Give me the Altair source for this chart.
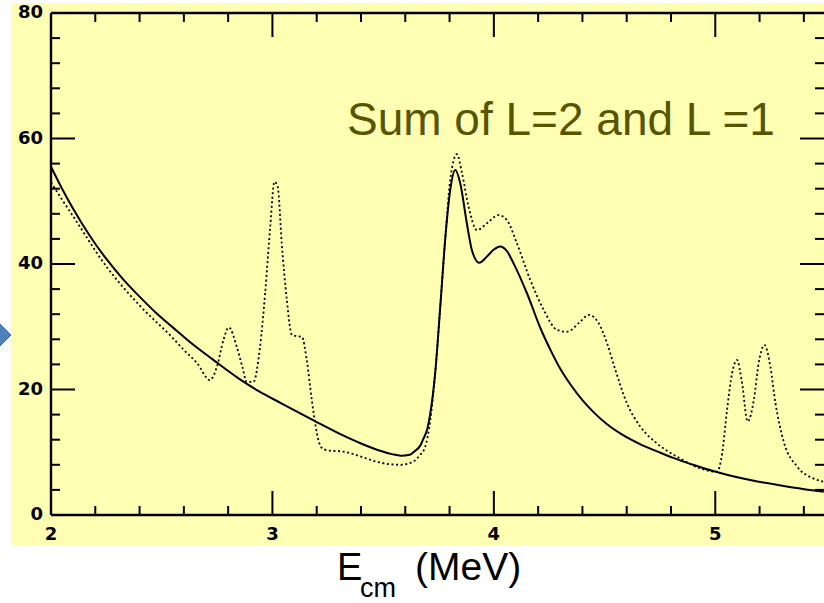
import altair as alt
import pandas as pd

# Cross section (mb) against centre-of-mass energy (MeV)
solid_e = [2.00, 2.05, 2.10, 2.175, 2.25, 2.325, 2.40, 2.475, 2.55, 2.64, 2.73, 2.85,
           2.94, 3.04, 3.19, 3.30, 3.40, 3.49, 3.54, 3.58, 3.62, 3.64, 3.67, 3.68,
           3.70, 3.713, 3.735, 3.758, 3.780, 3.803, 3.826, 3.848, 3.878, 3.901, 3.934,
           3.969, 4.00, 4.029, 4.06, 4.089, 4.15, 4.21, 4.26, 4.30, 4.35, 4.40, 4.45,
           4.51, 4.58, 4.66, 4.74, 4.81, 4.90, 4.99, 5.09, 5.19, 5.35, 5.49]
solid_sigma = [55.5, 52.0, 48.8, 44.5, 40.8, 37.6, 34.8, 32.2, 29.9, 27.2, 24.8, 21.7,
               19.7, 17.8, 15.0, 13.0, 11.4, 10.2, 9.7, 9.45, 9.6, 10.1, 11.2, 12.0,
               13.8, 16.2, 22.6, 33.2, 43.8, 51.8, 55.0, 52.9, 46.5, 42.2, 40.2,
               41.2, 42.3, 42.8, 42.0, 40.1, 35.3, 29.8, 26.0, 23.3, 20.6, 18.3, 16.4,
               14.5, 12.8, 11.3, 10.1, 9.1, 8.0, 7.0, 6.1, 5.35, 4.4, 3.7]

dotted_e = [2.00, 2.04, 2.10, 2.25, 2.40, 2.55, 2.60, 2.66, 2.718, 2.749, 2.779, 2.803,
            2.839, 2.865, 2.884, 2.914, 2.944, 2.967, 2.990, 3.009, 3.024, 3.042, 3.065,
            3.088, 3.11, 3.133, 3.155, 3.178, 3.201, 3.22, 3.25, 3.32, 3.40, 3.47, 3.53,
            3.58, 3.64, 3.665, 3.69, 3.713, 3.735, 3.758, 3.780, 3.803, 3.833, 3.856,
            3.886, 3.924, 3.969, 4.021, 4.059, 4.104, 4.164, 4.225, 4.285, 4.33, 4.39,
            4.428, 4.473, 4.511, 4.549, 4.601, 4.661, 4.737, 4.842, 4.933, 5.008, 5.031,
            5.053, 5.076, 5.098, 5.121, 5.146, 5.174, 5.196, 5.222, 5.249, 5.272, 5.309,
            5.37, 5.445, 5.49]
dotted_sigma = [53.0, 50.8, 47.6, 39.6, 33.4, 28.2, 26.3, 24.2, 21.5, 23.6, 27.9, 29.9,
                26.8, 23.5, 21.2, 21.2, 26.8, 35.3, 45.9, 53.1, 52.3, 43.3, 34.3,
                28.7, 28.5, 28.4, 24.7, 18.3, 13.0, 10.8, 10.3, 10.1, 9.3, 8.5, 8.1,
                8.0, 8.6, 9.5, 10.9, 15.1, 22.6, 33.2, 43.8, 53.4, 57.5, 54.5,
                49.1, 45.4, 46.5, 47.8, 47.0, 43.3, 37.5, 32.7, 29.5, 29.2, 30.8,
                31.9, 30.6, 27.4, 23.1, 17.8, 14.1, 11.4, 9.0, 7.4, 6.9, 9.8,
                16.7, 22.6, 24.7, 21.0, 14.9, 18.3, 24.2, 27.1, 23.6, 17.8, 11.7,
                7.7, 5.8, 5.3]

x_major = [2, 3, 4, 5]
x_minor = [2.2, 2.4, 2.6, 2.8, 3.2, 3.4, 3.6, 3.8, 4.2, 4.4, 4.6, 4.8, 5.2, 5.4]
y_major = [0, 20, 40, 60, 80]
y_minor = [4, 8, 12, 16, 24, 28, 32, 36, 44, 48, 52, 56, 64, 68, 72, 76]

annotation = "Sum of L=2 and L =1"

W, H = 773, 502
MAJOR, MINOR = 24, 9
PAPER = "#FFFFB3"
INK = "black"
LABEL_FONT = dict(font="DejaVu Sans", fontWeight="bold", fontSize=18, color=INK)

xs = alt.Scale(domain=[2, 5.491], nice=False, zero=False)
ys = alt.Scale(domain=[0, 80], nice=False, zero=False)

one = pd.DataFrame({"k": [0]})

# pale yellow panel behind the plot
panel = alt.Chart(one).mark_rect(color=PAPER).encode(
    x=alt.value(-40), x2=alt.value(W + 10), y=alt.value(-10), y2=alt.value(H + 30)
)

solid_df = pd.DataFrame({"e": solid_e, "sigma": solid_sigma})
dotted_df = pd.DataFrame({"e": dotted_e, "sigma": dotted_sigma})

solid = alt.Chart(solid_df).mark_line(
    color=INK, strokeWidth=2, interpolate="monotone"
).encode(
    x=alt.X("e:Q", scale=xs, axis=None),
    y=alt.Y("sigma:Q", scale=ys, axis=None),
)

dotted = alt.Chart(dotted_df).mark_line(
    color=INK, strokeWidth=1.8, strokeDash=[2, 2.6], interpolate="monotone"
).encode(
    x=alt.X("e:Q", scale=xs, axis=None),
    y=alt.Y("sigma:Q", scale=ys, axis=None),
)


def xticks(values, length):
    d = pd.DataFrame({"v": values})
    bottom = alt.Chart(d).mark_rule(color=INK, strokeWidth=2).encode(
        x=alt.X("v:Q", scale=xs, axis=None), y=alt.value(H), y2=alt.value(H - length)
    )
    top = alt.Chart(d).mark_rule(color=INK, strokeWidth=2).encode(
        x=alt.X("v:Q", scale=xs, axis=None), y=alt.value(0), y2=alt.value(length)
    )
    return [bottom, top]


def yticks(values, length):
    d = pd.DataFrame({"v": values})
    left = alt.Chart(d).mark_rule(color=INK, strokeWidth=2).encode(
        y=alt.Y("v:Q", scale=ys, axis=None), x=alt.value(0), x2=alt.value(length)
    )
    right = alt.Chart(d).mark_rule(color=INK, strokeWidth=2).encode(
        y=alt.Y("v:Q", scale=ys, axis=None), x=alt.value(W), x2=alt.value(W - length)
    )
    return [left, right]


ticks = (xticks(x_major, MAJOR) + xticks(x_minor, MINOR)
         + yticks(y_major, MAJOR) + yticks(y_minor, MINOR))

# tick labels
x_labels = alt.Chart(pd.DataFrame({"v": x_major})).mark_text(
    align="center", baseline="top", **LABEL_FONT
).encode(
    x=alt.X("v:Q", scale=xs, axis=None), y=alt.value(H + 11), text=alt.Text("v:Q", format="d")
)
y_labels = alt.Chart(pd.DataFrame({"v": y_major})).mark_text(
    align="right", baseline="middle", **LABEL_FONT
).encode(
    y=alt.Y("v:Q", scale=ys, axis=None), x=alt.value(-8), text=alt.Text("v:Q", format="d")
)

# frame: left, bottom and top edges
frame = [
    alt.Chart(one).mark_rule(color=INK, strokeWidth=2.4).encode(
        x=alt.value(0), y=alt.value(0), y2=alt.value(H)),
    alt.Chart(one).mark_rule(color=INK, strokeWidth=2.4).encode(
        x=alt.value(0), x2=alt.value(W + 2), y=alt.value(H)),
    alt.Chart(one).mark_rule(color=INK, strokeWidth=2.4).encode(
        x=alt.value(0), x2=alt.value(W + 2), y=alt.value(0)),
]

note = alt.Chart(one).mark_text(
    text=annotation, font="Liberation Sans", fontSize=46, color="#575500",
    align="left", baseline="alphabetic"
).encode(x=alt.value(296), y=alt.value(122))

# x-axis title with subscript
t_e = alt.Chart(one).mark_text(
    text="E", font="Liberation Sans", fontSize=38, color=INK,
    align="left", baseline="alphabetic"
).encode(x=alt.value(286), y=alt.value(567))
t_cm = alt.Chart(one).mark_text(
    text="cm", font="Liberation Sans", fontSize=27, color=INK,
    align="left", baseline="alphabetic"
).encode(x=alt.value(309), y=alt.value(584))
t_unit = alt.Chart(one).mark_text(
    text="(MeV)", font="Liberation Sans", fontSize=39, color=INK,
    align="left", baseline="alphabetic"
).encode(x=alt.value(364), y=alt.value(567))

# blue navigation chevron at the left edge
chevron = alt.Chart(one).mark_point(
    shape="diamond", filled=True, size=3600, color="#4F81BD", opacity=1,
    stroke="#3C6DA8", strokeWidth=1
).encode(x=alt.value(-70), y=alt.value(322))

chart = alt.layer(
    panel, *frame, *ticks, dotted, solid, x_labels, y_labels,
    note, t_e, t_cm, t_unit, chevron
).properties(
    width=W, height=H,
    padding={"left": 51, "top": 13, "right": 0, "bottom": 88},
    autosize=alt.AutoSizeParams(type="none"),
    background="white",
).configure_view(
    strokeWidth=0
)

chart.save("out.html", embed_options={"renderer": "svg", "actions": False})
